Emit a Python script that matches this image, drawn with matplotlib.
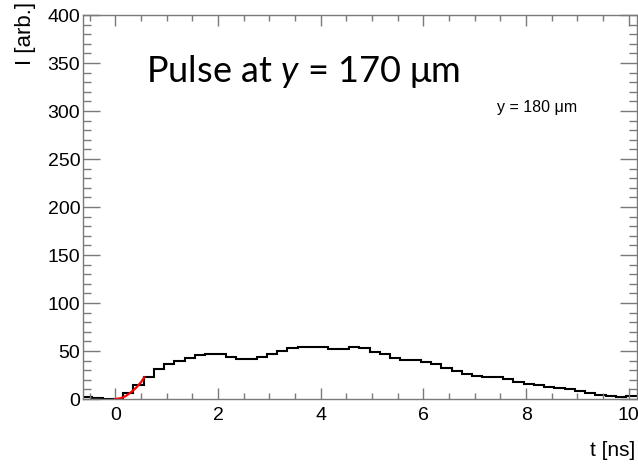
import numpy as np
import matplotlib
matplotlib.use("Agg")
import matplotlib.pyplot as plt
from matplotlib.ticker import MultipleLocator

# ---- data ----
bin_start = -0.65
bin_width = 0.2
values = [2.5, 1.0, 0.0, 0.0, 6.0, 15.0, 23.0, 31.5, 36.5, 39.6,
          42.4, 45.5, 46.9, 46.5, 44.0, 41.3, 42.0, 44.0, 47.0, 50.3,
          52.8, 54.5, 54.5, 54.5, 52.0, 52.0, 53.8, 52.8, 49.3, 46.5,
          42.4, 41.0, 41.0, 38.5, 36.0, 32.6, 28.8, 25.7, 23.6, 22.4,
          22.6, 20.5, 17.7, 16.0, 14.2, 12.8, 11.5, 10.0, 8.0, 6.2,
          4.5, 3.0, 2.4, 3.4]
fit_t = [0.0, 0.1, 0.2, 0.3, 0.4, 0.5, 0.56]
fit_v = [0.0, 0.8, 3.0, 6.8, 11.5, 17.5, 22.5]
x_ticks = [0, 2, 4, 6, 8, 10]
y_ticks = [0, 50, 100, 150, 200, 250, 300, 350, 400]

edges = bin_start + bin_width * np.arange(len(values) + 1)

W, H = 638, 466
fig = plt.figure(figsize=(W / 100, H / 100), dpi=100)
L, R, T, B = 83, 636.5, 15, 399
ax = fig.add_axes([L / W, 1 - B / H, (R - L) / W, (B - T) / H])

plt.rcParams['mathtext.fontset'] = 'custom'
plt.rcParams['mathtext.it'] = 'Lato:italic'
plt.rcParams['mathtext.rm'] = 'Lato'

ax.stairs(values, edges, baseline=None, color='black', linewidth=1.5)
ax.plot(fit_t, fit_v, color='red', linewidth=1.6)

ax.set_xlim(-0.63, 10.15)
ax.set_ylim(0, 400)
ax.set_xticks(x_ticks)
ax.set_yticks(y_ticks)
ax.xaxis.set_minor_locator(MultipleLocator(0.5))
ax.yaxis.set_minor_locator(MultipleLocator(10))

spc = '#7a7a7a'
for s in ax.spines.values():
    s.set_color(spc)
    s.set_linewidth(1.0)

ax.tick_params(axis='y', which='major', direction='in', length=12, width=1,
               color=spc, left=True, right=True, labelsize=14, pad=2)
ax.tick_params(axis='y', which='minor', direction='in', length=6, width=1,
               color=spc, left=True, right=True)
ax.tick_params(axis='x', which='major', direction='in', length=8, width=1,
               color=spc, bottom=True, top=True, labelsize=14, pad=6)
ax.tick_params(axis='x', which='minor', direction='in', length=4.5, width=1,
               color=spc, bottom=True, top=True)
for lab in ax.get_xticklabels() + ax.get_yticklabels():
    lab.set_family('Liberation Sans')

fig.text(26 / W, 1 - 2 / H, 'I [arb.]', rotation=90, ha='center', va='top',
         fontsize=16, family='Liberation Sans')
fig.text(635 / W, 1 - 441 / H, 't [ns]', ha='right', va='top',
         fontsize=15, family='Liberation Sans')

fig.text(146 / W, 1 - 82 / H, 'Pulse at $y$ = 170 μm', ha='left',
         va='baseline', fontsize=26, family='Lato')
fig.text(497 / W, 1 - 112 / H, 'y = 180 μm', ha='left', va='baseline',
         fontsize=11.5, family='Liberation Sans')

fig.savefig('out.png', dpi=100)
